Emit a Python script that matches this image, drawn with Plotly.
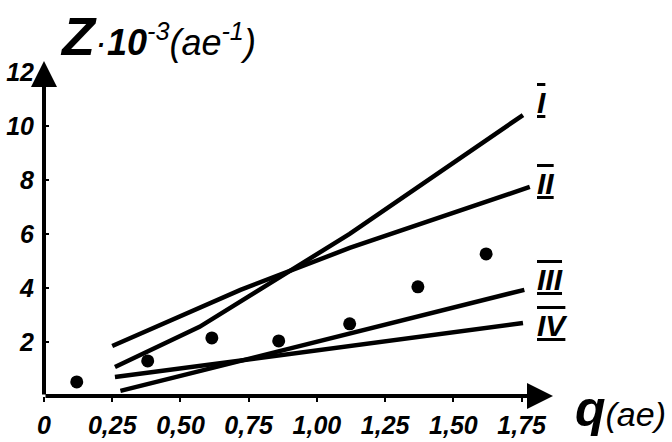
import plotly.graph_objects as go

# Data
dot_q = [0.12, 0.38, 0.615, 0.86, 1.12, 1.37, 1.62]
dot_z = [0.52, 1.30, 2.15, 2.04, 2.67, 4.04, 5.26]

line_names = ["I", "II", "III", "IV"]
line_q = {
    "I": [0.26, 0.57, 1.12, 1.755],
    "II": [0.25, 0.72, 1.12, 1.78],
    "III": [0.28, 1.76],
    "IV": [0.26, 1.755],
}
line_z = {
    "I": [1.07, 2.56, 6.0, 10.4],
    "II": [1.85, 3.93, 5.48, 7.74],
    "III": [0.19, 3.93],
    "IV": [0.70, 2.70],
}
label_z = {"I": 10.85, "II": 7.85, "III": 4.3, "IV": 2.6}

x_tickvals = [0, 0.25, 0.5, 0.75, 1.0, 1.25, 1.5, 1.75]
x_ticktext = ["0", "0,25", "0,50", "0,75", "1,00", "1,25", "1,50", "1,75"]
y_tickvals = [2, 4, 6, 8, 10, 12]
y_ticktext = ["2", "4", "6", "8", "10", "12"]

XMAX = 1.865
YMAX = 12.4
FAM = "Liberation Sans Narrow, Liberation Sans, sans-serif"

fig = go.Figure()
for n in line_names:
    fig.add_trace(go.Scatter(x=line_q[n], y=line_z[n], mode="lines",
                             line=dict(color="black", width=4.5),
                             showlegend=False, hoverinfo="skip"))
fig.add_trace(go.Scatter(x=dot_q, y=dot_z, mode="markers",
                         marker=dict(color="black", size=13),
                         showlegend=False))

fig.update_layout(
    width=672, height=442,
    margin=dict(l=44, r=119, t=61, b=46),
    paper_bgcolor="white", plot_bgcolor="white",
    font=dict(family="Liberation Sans", color="black"),
)
fig.update_xaxes(range=[0, XMAX], tickvals=x_tickvals, ticktext=x_ticktext,
                 automargin=False,
                 showgrid=False, zeroline=False, showline=False,
                 ticks="outside", ticklen=5, tickwidth=1.5, tickcolor="black",
                 ticklabelstandoff=2,
                 tickfont=dict(size=25, family=FAM, color="black",
                               weight="bold", style="italic"))
fig.update_yaxes(range=[0, YMAX], tickvals=y_tickvals, ticktext=y_ticktext,
                 automargin=False,
                 showgrid=False, zeroline=False, showline=False,
                 ticks="inside", ticklen=5, tickwidth=1.5, tickcolor="black",
                 ticklabelstandoff=9,
                 tickfont=dict(size=25, family=FAM, color="black",
                               weight="bold", style="italic"))

# axis arrows
fig.add_annotation(x=XMAX, y=0, ax=0, ay=0, xref="x", yref="y", axref="x", ayref="y",
                   showarrow=True, arrowhead=2, arrowsize=1.3, arrowwidth=4,
                   arrowcolor="black", text="")
fig.add_annotation(x=0, y=YMAX, ax=0, ay=0, xref="x", yref="y", axref="x", ayref="y",
                   showarrow=True, arrowhead=2, arrowsize=1.3, arrowwidth=4,
                   arrowcolor="black", text="")

# roman numeral labels
for n in line_names:
    fig.add_annotation(x=1.80, y=label_z[n], xref="x", yref="y", xanchor="left",
                       yanchor="middle", showarrow=False, text=n,
                       font=dict(family="Liberation Sans", size=30, color="black",
                                 weight="bold", style="italic",
                                 lineposition="under+over"))

# axis titles
fig.add_annotation(x=0.027, y=1.075, xref="paper", yref="paper", xanchor="left",
                   yanchor="middle", showarrow=False,
                   text="<b><span style='font-size:54px'>Z</span></b>·<b>10</b><sup>-3</sup>(ae<sup>-1</sup>)",
                   font=dict(family="Liberation Sans", size=36, color="black",
                             style="italic"))
fig.add_annotation(x=1.225, y=-0.04, xref="paper", yref="paper", xanchor="right",
                   yanchor="middle", showarrow=False,
                   text="<b><span style='font-size:50px'>q</span></b>(ae)",
                   font=dict(family="Liberation Sans", size=34, color="black",
                             style="italic"))

fig.write_html("out.html")
